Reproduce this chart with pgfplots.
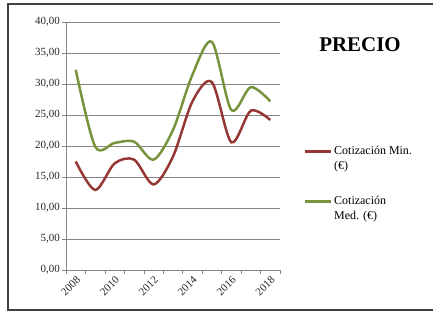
\documentclass[border=0pt]{standalone}
\usepackage{fontspec}
\setmainfont{Liberation Serif}
\usepackage{pgfplots}
\pgfplotsset{compat=1.18}
\definecolor{minred}{HTML}{953735}
\definecolor{medgreen}{HTML}{77933C}
\definecolor{gridgray}{HTML}{868686}
\definecolor{framegray}{HTML}{404040}
\begin{document}
\begin{tikzpicture}[x=1bp,y=1bp]
\useasboundingbox (0,0) rectangle (433,312);
\draw[framegray, line width=1.5bp] (445,308) -- (8,308) -- (8,2) -- (445,2);
\node[font=\fontsize{21}{25}\selectfont\bfseries] at (360,267) {PRECIO};
\begin{axis}[
  at={(66bp,42bp)}, anchor=south west,
  width=214bp, height=248bp, scale only axis,
  xmin=-0.5, xmax=10.5, ymin=0, ymax=40,
  axis lines*=left,
  axis line style={gridgray, line width=0.6pt},
  ytick={0,5,...,40},
  ymajorgrids, grid style={gridgray, line width=0.5pt},
  xtick={0,2,4,6,8,10},
  xticklabels={2008,2010,2012,2014,2016,2018},
  major x tick style={draw=none},
  minor xtick={-0.5,0.5,...,10.5},
  minor x tick style={gridgray, line width=0.6pt},
  tick align=outside,
  major tick length=4bp,
  minor tick length=4bp,
  ytick style={gridgray, line width=0.6pt},
  tick label style={font=\fontsize{11}{13}\selectfont, text=black!85},
  xticklabel style={rotate=45, anchor=north east, inner sep=1pt},
  yticklabel style={inner sep=2pt},
  /pgf/number format/.cd, fixed, fixed zerofill, precision=2, use comma, assume math mode=true,
  /pgfplots/.cd,
  legend style={at={(1.11,0.515)}, anchor=north west, draw=none, fill=none,
    font=\fontsize{12}{15}\selectfont, row sep=34bp,
    cells={anchor=base west}, inner sep=0pt},
  legend image code/.code={\draw[#1] (0bp,3.5bp) -- (26bp,3.5bp);},
]
\addplot[minred, line width=2.5pt, smooth] coordinates {
(0,17.5) (1,12.9) (2,17.2) (3,17.8) (4,13.8) (5,18.3) (6,27.2) (7,30.3) (8,20.6) (9,25.7) (10,24.2)};
\addlegendentry{\begin{tabular}[t]{@{}l@{}}Cotización Min.\\(€)\end{tabular}}
\addplot[medgreen, line width=2.5pt, smooth] coordinates {
(0,32.3) (1,19.9) (2,20.5) (3,20.7) (4,17.8) (5,22.6) (6,31.5) (7,36.8) (8,25.8) (9,29.5) (10,27.2)};
\addlegendentry{\begin{tabular}[t]{@{}l@{}}Cotización\\Med. (€)\end{tabular}}
\end{axis}
\end{tikzpicture}
\end{document}
